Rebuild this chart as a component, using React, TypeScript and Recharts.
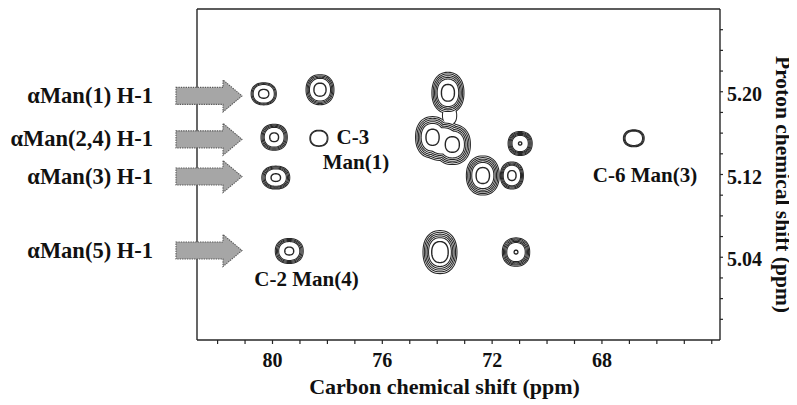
import React from 'react';
import { ScatterChart, Scatter, XAxis, YAxis } from 'recharts';

// ---------- axes ----------
const X_DOMAIN: [number, number] = [63.7, 82.75];
const Y_DOMAIN: [number, number] = [4.96, 5.28];
const xTicks = [64, 65, 66, 67, 68, 69, 70, 71, 72, 73, 74, 75, 76, 77, 78, 79, 80, 81, 82];
const xTickLabels = [80, 76, 72, 68];
const yTicks = [4.98, 5.0, 5.02, 5.04, 5.06, 5.08, 5.1, 5.12, 5.14, 5.16, 5.18, 5.2, 5.22, 5.24, 5.26];
const yTickLabels = [5.04, 5.12, 5.2];
const xTitle = 'Carbon chemical shift (ppm)';
const yTitle = 'Proton chemical shift (ppm)';

// ---------- cross peaks / contour lobes (carbon ppm, proton ppm, half-widths in ppm, contour levels, inner contour) ----------
const peakCarbon = [80.32, 78.27, 79.94, 78.31, 79.88, 73.61, 74.17, 73.45, 73.81, 73.55, 70.98, 72.34, 71.28, 79.39, 73.9, 71.13, 66.84];
const peakProton = [5.198, 5.202, 5.156, 5.155, 5.117, 5.199, 5.156, 5.149, 5.1525, 5.177, 5.15, 5.119, 5.119, 5.046, 5.045, 5.045, 5.155];
const peakWidthC = [0.44, 0.49, 0.46, 0.31, 0.49, 0.565, 0.6, 0.64, 0.78, 0.24, 0.42, 0.58, 0.4, 0.49, 0.6, 0.48, 0.36];
const peakWidthH = [0.0102, 0.014, 0.0121, 0.0073, 0.0106, 0.0193, 0.0195, 0.0189, 0.0185, 0.0085, 0.0111, 0.0184, 0.0126, 0.0116, 0.0203, 0.0132, 0.0077];
const peakLevels = [3, 4, 4, 2, 4, 5, 5, 5, 5, 1, 5, 5, 4, 4, 5, 5, 3];
const peakCore = [0.42, 0.45, 0.35, 0, 0.35, 0.42, 0.4, 0.4, 0, 0, 0.14, 0.42, 0.38, 0.33, 0.5, 0.14, 0];

// ---------- anomeric H-1 rows ----------
const h1Labels = ['\u03b1Man(1) H-1', '\u03b1Man(2,4) H-1', '\u03b1Man(3) H-1', '\u03b1Man(5) H-1'];
const h1Proton = [5.196, 5.154, 5.118, 5.0465];

// ---------- assignment notes ----------
const noteText = ['C-3', 'Man(1)', 'C-2 Man(4)', 'C-6 Man(3)'];
const noteCarbon = [77.07, 76.96, 78.76, 66.43];
const noteProton = [5.1494, 5.1253, 5.0125, 5.1127];

// ---------- layout / style ----------
const CHART_W = 789;
const CHART_H = 397;
const MARGIN = { top: 0, right: 7, bottom: 5, left: 188 };
const Y_AXIS_W = 70;
const X_AXIS_H = 60;
const PLOT_W = CHART_W - MARGIN.left - 1 - MARGIN.right - Y_AXIS_W;
const PLOT_H = CHART_H - MARGIN.top - 1 - MARGIN.bottom - X_AXIS_H;
const PX_C = PLOT_W / (X_DOMAIN[1] - X_DOMAIN[0]);
const PX_H = PLOT_H / (Y_DOMAIN[1] - Y_DOMAIN[0]);
const INK = '#262626';
const FONT = '"Liberation Serif", "Times New Roman", serif';
const LEVEL_STEP = 0.085;

type Peak = { c: number; h: number; wc: number; wh: number; levels: number; core: number };
const peaks: Peak[] = peakCarbon.map((c, i) => ({
  c,
  h: peakProton[i],
  wc: peakWidthC[i],
  wh: peakWidthH[i],
  levels: peakLevels[i],
  core: peakCore[i],
}));
const h1Rows = h1Labels.map((t, i) => ({ c: X_DOMAIN[1], h: h1Proton[i], text: t }));
const notes = noteText.map((t, i) => ({ c: noteCarbon[i], h: noteProton[i], text: t }));

function blobPath(cx: number, cy: number, rx: number, ry: number): string {
  const n = 2.25;
  const N = 60;
  let d = '';
  for (let i = 0; i <= N; i++) {
    const t = (2 * Math.PI * i) / N;
    const c = Math.cos(t);
    const s = Math.sin(t);
    const x = cx + rx * Math.sign(c) * Math.pow(Math.abs(c), 2 / n);
    const y = cy + ry * Math.sign(s) * Math.pow(Math.abs(s), 2 / n);
    d += (i === 0 ? 'M' : 'L') + x.toFixed(2) + ',' + y.toFixed(2);
  }
  return d + 'Z';
}

const ringShape = (k: number, mode: 'stroke' | 'fill') => (props: any) => {
  const { cx, cy } = props;
  const p: Peak = props.payload ?? props;
  const s = 1 - LEVEL_STEP * k;
  const d = blobPath(cx, cy, p.wc * PX_C * s, p.wh * PX_H * s);
  return mode === 'stroke' ? (
    <path d={d} fill="none" stroke={INK} strokeWidth={2.1} />
  ) : (
    <path d={d} fill="#ffffff" stroke="none" />
  );
};

const coreShape = (props: any) => {
  const { cx, cy } = props;
  const p: Peak = props.payload ?? props;
  const d = blobPath(cx, cy, Math.max(1.3, p.wc * PX_C * p.core), Math.max(1.3, p.wh * PX_H * p.core));
  return <path d={d} fill="none" stroke={INK} strokeWidth={1.4} />;
};

const arrowShape = (props: any) => {
  const { cx, cy } = props;
  const p = props.payload ?? props;
  const d = [
    `M${cx - 21},${cy - 8.5}`,
    `L${cx + 26},${cy - 8.5}`,
    `L${cx + 26},${cy - 16}`,
    `L${cx + 45},${cy}`,
    `L${cx + 26},${cy + 16}`,
    `L${cx + 26},${cy + 8.5}`,
    `L${cx - 21},${cy + 8.5}`,
    'Z',
  ].join(' ');
  return (
    <g>
      <path d={d} fill="#a6a6a6" stroke="#5a5a5a" strokeWidth={1.1} strokeDasharray="1.4 1" />
      <text x={cx - 44} y={cy + 7} textAnchor="end" fontFamily={FONT} fontWeight="bold" fontSize={22.5} fill="#111">
        {p.text}
      </text>
    </g>
  );
};

const noteShape = (props: any) => {
  const { cx, cy } = props;
  const p = props.payload ?? props;
  return (
    <text x={cx} y={cy} textAnchor="middle" fontFamily={FONT} fontWeight="bold" fontSize={21} fill="#111">
      {p.text}
    </text>
  );
};

const XTick = (props: any) => {
  const { x, y, payload } = props;
  const v = payload.value;
  if (!xTickLabels.some((l) => Math.abs(l - v) < 1e-6)) return <g />;
  return (
    <text x={x} y={y + 21} textAnchor="middle" fontFamily={FONT} fontWeight="bold" fontSize={20} fill="#111">
      {v}
    </text>
  );
};

const YTick = (props: any) => {
  const { x, y, payload } = props;
  const v = payload.value;
  if (!yTickLabels.some((l) => Math.abs(l - v) < 1e-6)) return <g />;
  return (
    <text x={x - 1} y={y + 9} textAnchor="start" fontFamily={FONT} fontWeight="bold" fontSize={20} fill="#111">
      {v.toFixed(2)}
    </text>
  );
};

const XTitle = (props: any) => {
  const vb = props.viewBox || { x: 0, y: 0, width: 0, height: 0 };
  return (
    <text x={vb.x + vb.width / 2 - 14} y={vb.y + 54} textAnchor="middle" fontFamily={FONT} fontWeight="bold" fontSize={22} fill="#111">
      {xTitle}
    </text>
  );
};

const YTitle = (props: any) => {
  const vb = props.viewBox || { x: 0, y: 0, width: 0, height: 0 };
  const x = vb.x + 56;
  const y = vb.y + vb.height / 2 + 10;
  return (
    <text x={x} y={y} transform={`rotate(90 ${x} ${y})`} textAnchor="middle" fontFamily={FONT} fontWeight="bold" fontSize={21.5} fill="#111">
      {yTitle}
    </text>
  );
};

const levelIdx = [0, 1, 2, 3, 4];

export default function App() {
  return (
    <div style={{ width: CHART_W, height: CHART_H, background: '#fff' }}>
      <ScatterChart width={CHART_W} height={CHART_H} margin={MARGIN}>
        <XAxis
          xAxisId="b"
          dataKey="c"
          type="number"
          domain={X_DOMAIN}
          reversed
          ticks={xTicks}
          interval={0}
          tick={(p: any) => <XTick {...p} />}
          tickSize={4}
          tickMargin={2}
          tickLine={{ stroke: INK, strokeWidth: 1.2 }}
          axisLine={{ stroke: INK, strokeWidth: 1.4 }}
          height={X_AXIS_H}
          label={{ content: (p: any) => <XTitle {...p} /> } as any}
        />
        <XAxis
          xAxisId="t"
          orientation="top"
          type="number"
          domain={X_DOMAIN}
          reversed
          height={1}
          tick={false}
          tickLine={false}
          axisLine={{ stroke: INK, strokeWidth: 1.4 }}
        />
        <YAxis
          yAxisId="r"
          dataKey="h"
          orientation="right"
          type="number"
          domain={Y_DOMAIN}
          ticks={yTicks}
          interval={0}
          tick={(p: any) => <YTick {...p} />}
          tickSize={3}
          tickMargin={5}
          tickLine={{ stroke: INK, strokeWidth: 1.2 }}
          axisLine={{ stroke: INK, strokeWidth: 1.4 }}
          width={Y_AXIS_W}
          label={{ content: (p: any) => <YTitle {...p} /> } as any}
        />
        <YAxis
          yAxisId="l"
          orientation="left"
          type="number"
          domain={Y_DOMAIN}
          width={1}
          tick={false}
          tickLine={false}
          axisLine={{ stroke: INK, strokeWidth: 1.4 }}
        />
        {levelIdx.flatMap((k) => [
          <Scatter
            key={'s' + k}
            xAxisId="b"
            yAxisId="r"
            data={peaks.filter((p) => p.levels > k)}
            shape={ringShape(k, 'stroke')}
            isAnimationActive={false}
          />,
          <Scatter
            key={'f' + k}
            xAxisId="b"
            yAxisId="r"
            data={peaks.filter((p) => p.levels > k)}
            shape={ringShape(k, 'fill')}
            isAnimationActive={false}
          />,
        ])}
        <Scatter
          xAxisId="b"
          yAxisId="r"
          data={peaks.filter((p) => p.core > 0)}
          shape={coreShape}
          isAnimationActive={false}
        />
        <Scatter xAxisId="b" yAxisId="r" data={h1Rows} shape={arrowShape} isAnimationActive={false} />
        <Scatter xAxisId="b" yAxisId="r" data={notes} shape={noteShape} isAnimationActive={false} />
      </ScatterChart>
    </div>
  );
}
